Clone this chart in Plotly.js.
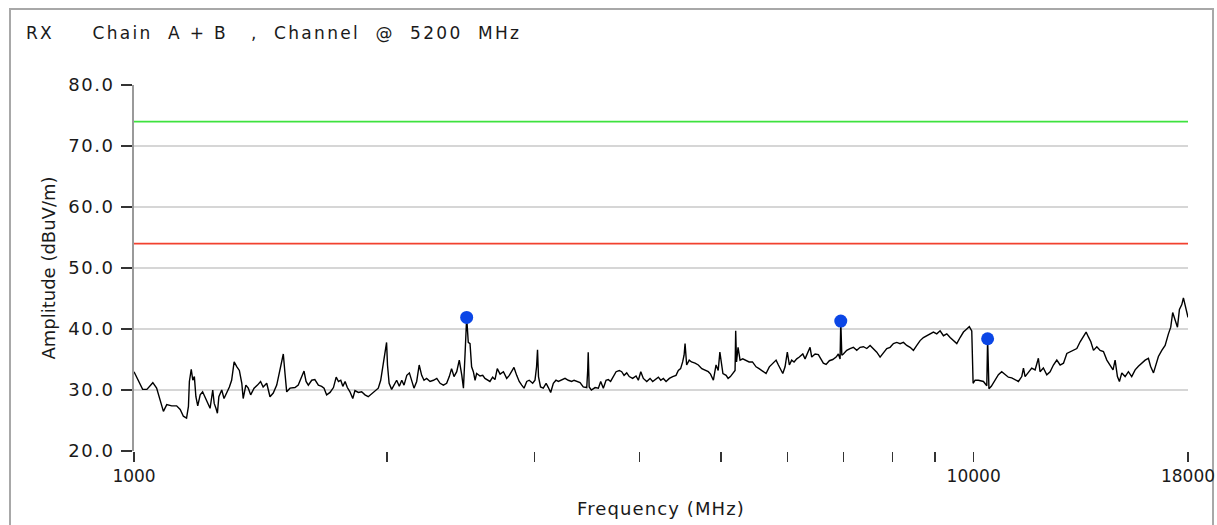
<!DOCTYPE html>
<html><head><meta charset="utf-8">
<script src="https://cdn.plot.ly/plotly-3.0.1.min.js"></script>
<style>
html,body{margin:0;padding:0;background:#fff;}
#wrap{position:relative;width:1217px;height:525px;overflow:hidden;}
#frame{position:absolute;left:9px;top:8px;width:1205px;height:600px;border:2px solid #a8a8a8;box-sizing:border-box;}
#chart{position:absolute;left:0;top:0;width:1217px;height:525px;}
#chart .ytick text{letter-spacing:1.5px;}
#chart .gtitle{letter-spacing:2.3px;}
#chart .xtitle{letter-spacing:1.1px;}
</style></head>
<body><div id="wrap"><div id="frame"></div><div id="chart"></div></div>
<script>
const freqA = [1000,1012,1024,1036,1053,1064,1073,1084,1094,1109,1124,1135,1145,1155,1161,1164,1170,1175,1180,1185,1191,1199,1207,1215,1223,1232,1241,1246,1252,1257,1262,1272,1280,1289,1299,1307,1316,1326,1335,1344,1349,1359,1368,1377,1390,1403,1415,1425,1439,1452,1465,1479,1489,1499,1506,1513,1520,1534,1555,1569,1584,1594,1603];
const ampA  = [33.0,31.6,30.1,30.1,31.2,30.3,28.4,26.5,27.6,27.4,27.4,26.8,25.7,25.4,27.3,31.4,33.4,31.6,32.2,28.9,27.4,29.2,29.7,28.9,28.1,27.0,30.0,27.8,27.0,26.2,28.9,30.0,28.6,29.5,30.5,31.6,34.6,33.8,33.2,31.1,28.6,30.8,30.3,29.2,30.3,30.8,31.4,30.5,31.1,28.9,29.5,30.8,32.7,34.9,35.9,32.7,29.7,30.3,30.4,30.8,32.2,33.1,31.4];
const freqB = [1613,1628,1642,1658,1673,1684,1696,1712,1728,1741,1752,1763,1773,1784,1795,1808,1822,1833,1850,1867,1884,1901,1919,1936,1954,1967,1978,1990,1999,2004,2013,2027,2040,2055,2070,2084,2097,2113,2128,2142,2155,2171,2186,2201,2215,2231,2252,2273,2294,2315,2336,2357,2374,2389,2405,2423,2440,2457,2468,2479,2490,2501,2513,2524,2536,2548,2559,2583];
const ampB  = [30.8,31.6,31.7,30.8,30.6,30.3,29.2,29.6,30.4,32.1,31.4,31.6,30.6,31.4,30.4,29.7,28.6,29.9,29.6,29.7,29.2,28.9,29.4,29.9,30.3,31.6,33.5,35.9,37.8,34.1,31.1,30.1,30.8,31.6,30.6,31.6,30.8,32.4,32.8,31.4,30.3,31.4,34.1,32.4,31.6,31.9,31.4,31.6,31.9,31.1,30.8,31.1,32.2,33.5,32.2,33.0,34.9,32.4,30.3,35.9,41.9,37.8,37.6,33.8,33.0,31.6,32.7,32.3];
const freqC = [2602,2618,2635,2654,2674,2691,2708,2729,2754,2779,2799,2818,2835,2856,2876,2896,2914,2936,2956,2984,3003,3016,3024,3032,3049,3072,3096,3115,3135,3158,3181,3202,3232,3261,3290,3321,3343,3368,3398,3428,3461,3470,3475,3484,3505,3541,3573,3596,3622,3649,3672,3695,3723,3751,3784,3809,3834,3862,3889,3925,3962,3987,4014,4042,4080,4117];
const ampC  = [32.4,31.9,31.6,31.4,32.1,31.7,33.5,32.6,33.0,31.9,32.4,33.2,33.7,32.4,31.4,30.8,30.3,31.4,31.6,31.1,31.6,33.8,36.6,32.2,30.5,30.3,31.1,30.4,29.6,31.1,31.6,31.4,31.6,31.9,31.6,31.4,31.6,31.4,31.2,30.5,30.4,33.2,36.2,30.5,30.0,30.4,30.3,31.4,30.3,31.6,31.7,31.4,32.3,33.0,33.2,33.0,32.4,32.8,32.2,31.9,32.3,31.6,33.0,31.9,31.4,31.9];
const freqD = [4147,4174,4212,4240,4270,4302,4341,4381,4421,4449,4477,4502,4520,4532,4552,4584,4613,4658,4700,4745,4787,4830,4860,4898,4934,4963,4986,5007,5028,5072,5100,5132,5175,5198,5207,5219,5241,5270,5309,5357,5402,5452,5506,5552,5608,5659,5710,5763,5817,5854,5892,5925,5962,5999,6033,6071,6111,6156,6200,6259,6298,6338,6385,6414,6474,6532,6562];
const ampD  = [31.4,31.7,32.1,31.6,31.9,31.4,31.9,32.2,32.4,33.2,33.5,34.6,35.7,37.6,34.1,34.9,34.6,34.4,34.1,33.5,33.2,33.0,32.6,31.6,34.1,33.2,36.2,34.1,32.7,32.4,31.9,32.2,33.0,33.2,39.7,34.6,37.0,34.9,35.1,34.9,34.6,34.6,33.8,33.5,33.0,32.7,33.8,34.3,34.9,34.1,33.2,32.7,33.8,36.2,34.1,34.9,34.6,35.1,35.4,35.9,35.1,35.9,37.0,35.4,35.9,35.8,35.4];
const freqE = [6622,6672,6732,6795,6858,6900,6933,6946,6966,6996,7061,7125,7190,7257,7324,7391,7460,7528,7597,7667,7737,7808,7880,7952,8025,8099,8173,8248,8324,8400,8477,8556,8634,8713,8794,8874,8955,9038,9121,9205,9290,9375,9461,9548,9635,9724,9813,9882,9948,9985,10040,10130];
const ampE  = [34.4,34.2,34.8,35.0,35.4,35.9,35.1,41.3,35.7,35.9,36.5,36.8,37.0,36.5,37.0,37.1,36.8,37.3,36.8,36.2,35.4,36.2,36.8,37.0,37.6,37.8,37.6,37.8,37.3,37.0,36.5,37.3,38.1,38.6,38.9,39.2,39.5,39.2,39.7,38.9,39.2,38.6,38.1,37.6,38.6,39.5,40.0,40.4,39.7,31.1,31.6,31.6];
const freqF = [10272,10367,10390,10428,10496,10606,10702,10800,10901,10999,11100,11204,11305,11410,11463,11515,11620,11726,11835,11942,11997,12106,12221,12332,12445,12561,12676,12793,12911,13029,13149,13270,13391,13514,13612,13698,13790,13890,14018,14146,14275,14408,14539,14655,14739,14833,14914,15012,15149,15286,15425,15571,15711,15853,16004,16148,16243,16375,16494,16597,16752,16906,17059,17168,17260,17376,17487,17582,17697,17775,17859,17941,18000];
const ampF  = [31.4,30.7,38.4,30.2,30.6,31.7,32.5,33.0,32.5,32.1,32.0,31.7,31.4,32.2,33.6,32.2,33.0,33.6,33.3,35.2,33.0,33.6,32.5,33.0,34.1,34.9,34.1,34.4,36.0,36.3,36.5,36.8,37.9,38.7,39.5,38.7,37.9,36.5,37.1,36.5,36.3,34.9,34.1,33.3,34.9,32.2,31.4,32.8,32.2,33.0,32.2,33.3,33.9,34.4,34.9,35.2,33.9,32.8,34.4,35.5,36.5,37.3,39.2,40.3,42.7,41.3,40.3,43.2,44.0,45.1,43.7,42.9,41.9];

// Peak markers
const peakFreq = [2490, 6946, 10390];
const peakAmp  = [41.9, 41.3, 38.4];

// Limit lines
const limitSpan = [1000, 18000];
const limitPeak = 74;
const limitAvg = 54;

// Axis ticks
const xTickVals = [1000,2000,3000,4000,5000,6000,7000,8000,9000,10000,18000];
const xTickText = ['1000','','','','','','','','','10000','18000'];
const yTickVals = [20,30,40,50,60,70,80];

const freq = [].concat(freqA, freqB, freqC, freqD, freqE, freqF);
const amp  = [].concat(ampA, ampB, ampC, ampD, ampE, ampF);

const FONT = 'DejaVu Sans, Verdana, sans-serif';
const INK = '#1a1a1a';

const traces = [
  {x: limitSpan, y: [limitPeak, limitPeak], mode: 'lines', line: {color: '#3ee23e', width: 1.6}, hoverinfo: 'skip'},
  {x: limitSpan, y: [limitAvg, limitAvg], mode: 'lines', line: {color: '#f2412f', width: 1.6}, hoverinfo: 'skip'},
  {x: freq, y: amp, mode: 'lines', line: {color: '#000000', width: 1.4}},
  {x: peakFreq, y: peakAmp, mode: 'markers', marker: {color: '#0b46e6', size: 13, symbol: 'circle'}}
];

const layout = {
  width: 1217, height: 525,
  margin: {l: 134, r: 29, t: 85, b: 74, pad: 0},
  paper_bgcolor: 'rgba(0,0,0,0)',
  plot_bgcolor: 'rgba(0,0,0,0)',
  showlegend: false,
  font: {family: FONT, color: INK, size: 17},
  title: {
    text: 'RX\u00A0\u00A0\u00A0\u00A0\u00A0Chain\u00A0\u00A0A + B\u00A0\u00A0\u00A0,\u00A0\u00A0Channel\u00A0\u00A0@\u00A0\u00A05200\u00A0\u00A0MHz',
    xref: 'container', yref: 'container',
    x: 26/1217, xanchor: 'left',
    y: 1 - 33/525, yanchor: 'middle',
    font: {family: FONT, size: 17, color: INK}
  },
  xaxis: {
    type: 'log',
    range: [3, Math.log10(18000)],
    tickmode: 'array', tickvals: xTickVals, ticktext: xTickText,
    ticks: 'outside', ticklen: 10, tickwidth: 1.5, tickcolor: '#333',
    showgrid: false, showline: false, zeroline: false,
    tickfont: {family: FONT, size: 17, color: INK},
    title: {text: 'Frequency (MHz)', font: {family: FONT, size: 18, color: INK}, standoff: 16}
  },
  yaxis: {
    range: [20, 80],
    tickmode: 'array', tickvals: yTickVals, tickformat: '.1f',
    ticks: 'outside', ticklen: 11, tickwidth: 1.5, tickcolor: '#333',
    ticklabelstandoff: 3,
    showgrid: true, gridcolor: '#d6d6d6', gridwidth: 2,
    showline: true, linecolor: '#9a9a9a', linewidth: 2,
    zeroline: false,
    tickfont: {family: FONT, size: 18, color: INK},
    title: {text: 'Amplitude (dBuV/m)', font: {family: FONT, size: 18, color: INK}, standoff: 14}
  },
  shapes: [
    {type: 'line', xref: 'x', yref: 'paper', x0: Math.log10(10000), x1: Math.log10(10000), y0: 0, y1: 1,
     line: {color: '#d6d6d6', width: 2}, layer: 'below'}
  ]
};

Plotly.newPlot('chart', traces, layout, {staticPlot: true, displayModeBar: false});
</script></body></html>
